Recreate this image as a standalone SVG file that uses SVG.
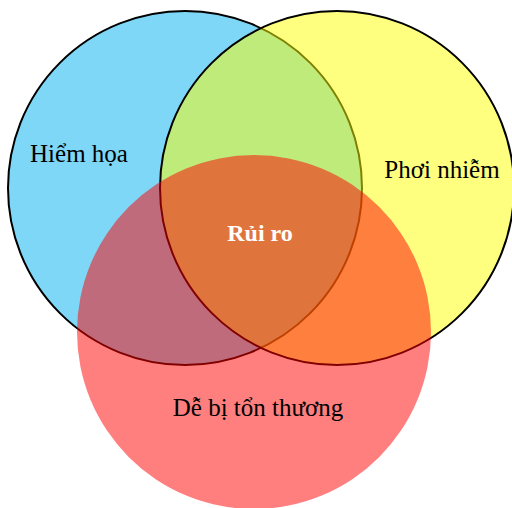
<svg xmlns="http://www.w3.org/2000/svg" width="512" height="508" viewBox="0 0 512 508">
  <style>
    .set { fill-opacity: 0.5; stroke: #000; stroke-width: 2; }
    .lbl { font-family: "Liberation Serif", "Times New Roman", serif; font-size: 25px; fill: #000; text-anchor: middle; }
    .core { font-family: "Liberation Serif", "Times New Roman", serif; font-size: 24px; font-weight: bold; fill: #fff; text-anchor: middle; }
  </style>
  <rect width="512" height="508" fill="#fff"/>
  <g id="hazard">
    <circle class="set" cx="185" cy="188" r="177" fill="#00B0F0"/>
  </g>
  <g id="exposure">
    <circle class="set" cx="337" cy="188" r="177" fill="#FFFF00"/>
  </g>
  <g id="vulnerability">
    <circle cx="254" cy="332" r="177" fill="#FF0000" fill-opacity="0.5"/>
  </g>
  <g id="labels">
    <text class="lbl" x="79" y="162">Hiểm họa</text>
    <text class="lbl" x="442" y="178">Phơi nhiễm</text>
    <text class="lbl" x="258" y="416">Dễ bị tổn thương</text>
    <text class="core" x="260" y="241">Rủi ro</text>
  </g>
</svg>
